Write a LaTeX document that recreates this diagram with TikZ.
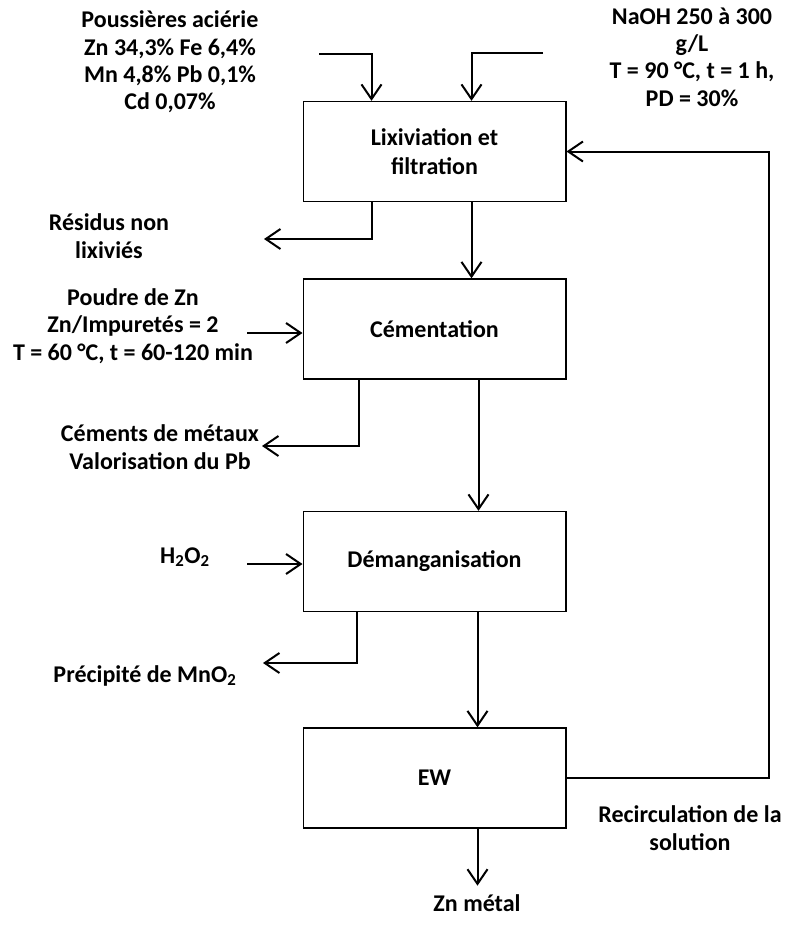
\documentclass[tikz,border=0pt]{standalone}
\usepackage{fontspec}
\setmainfont{Carlito}
\usepackage{tikz}
\usetikzlibrary{arrows.meta, positioning, calc}
\tikzset{
    etape/.style={
        rectangle, draw=black, line width=1pt,
        minimum width=197pt, minimum height=75pt,
        align=center, inner sep=0pt,
        font=\fontsize{18}{21.5}\selectfont\bfseries
    },
    fleche/.style={-{Straight Barb[length=11pt,width=15pt,line width=1.5pt]}, line width=1.5pt},
    texte/.style={align=center, inner sep=0pt,
        font=\fontsize{18}{20.5}\selectfont\bfseries}
}
\begin{document}
\begin{tikzpicture}[x=0.75pt, y=-0.75pt]
    \useasboundingbox (0,0) rectangle (787,925);

    % etapes du procede
    \node[etape] (lixiv) at (434.5,151.5) {Lixiviation et\\filtration};
    \node[etape] (cement) at (434.5,329) {Cémentation};
    \node[etape] (deman) at (434.5,561.5) {Démanganisation};
    \node[etape] (ew) at (434.5,778) {EW};

    % textes
    \node[texte] (pouss) at (170,62) {Poussières aciérie\\Zn 34,3\% Fe 6,4\%\\Mn 4,8\% Pb 0,1\%\\Cd 0,07\%};
    \node[texte] (naoh) at (692,57) {NaOH 250 à 300\\g/L\\T = 90 °C, t = 1 h,\\PD = 30\%};
    \node[texte] (residus) at (109,236) {Résidus non\\lixiviés};
    \node[texte] (poudre) at (133,326) {Poudre de Zn\\Zn/Impuretés = 2\\T = 60 °C, t = 60-120 min};
    \node[texte] (ciments) at (160,447) {Céments de métaux\\Valorisation du Pb};
    \node[texte] (hperox) at (185,557) {H\textsubscript{2}O\textsubscript{2}};
    \node[texte] (mnoo) at (145,676) {Précipité de MnO\textsubscript{2}};
    \node[texte] (recirc) at (690,828) {Recirculation de la\\solution};
    \node[texte] (znmet) at (477,903) {Zn métal};

    % extremites libres
    \coordinate (entreeA) at (319,54);
    \coordinate (entreeB) at (543,53);
    \coordinate (sortieA) at (264,239);
    \coordinate (entreeC) at (247,333);
    \coordinate (sortieB) at (262,446);
    \coordinate (entreeD) at (247,564);
    \coordinate (sortieC) at (263,663);

    % fleches
    \draw[fleche] (entreeA) -| ($(lixiv.north west)+(69,0)$);
    \draw[fleche] (entreeB) -| ($(lixiv.north west)+(169,0)$);
    \draw[fleche] ($(lixiv.south west)+(69,0)$) |- (sortieA);
    \draw[fleche] ($(lixiv.south west)+(169,0)$) -- ($(cement.north west)+(169,0)$);
    \draw[fleche] (entreeC) -- (entreeC -| cement.west);
    \draw[fleche] ($(cement.south west)+(56,0)$) |- (sortieB);
    \draw[fleche] ($(cement.south west)+(176,0)$) -- ($(deman.north west)+(176,0)$);
    \draw[fleche] (entreeD) -- (entreeD -| deman.west);
    \draw[fleche] ($(deman.south west)+(54,0)$) |- (sortieC);
    \draw[fleche] ($(deman.south west)+(175,0)$) -- ($(ew.north west)+(175,0)$);
    \draw[fleche] ($(ew.south west)+(175,0)$) -- ++(0,57) coordinate (sortieD);
    \draw[fleche] (ew.east) -| ($(lixiv.east)+(202,0)$) -- (lixiv.east);

\end{tikzpicture}
\end{document}
